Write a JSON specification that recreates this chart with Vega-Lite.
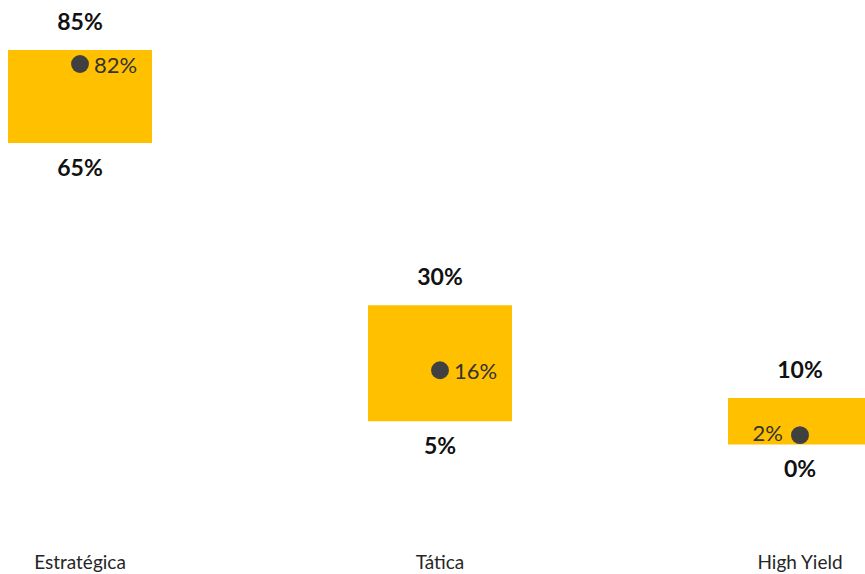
{
  "$schema": "https://vega.github.io/schema/vega-lite/v6.json",
  "width": 865,
  "height": 540,
  "autosize": "none",
  "padding": {"left": 0, "top": 0, "right": 0, "bottom": 34},
  "background": "white",
  "config": {"view": {"stroke": null}, "font": "Lato"},
  "data": {
    "values": [
      {"categoria": "Estratégica", "min": 0.65, "max": 0.85, "atual": 0.82},
      {"categoria": "Tática", "min": 0.05, "max": 0.30, "atual": 0.16},
      {"categoria": "High Yield", "min": 0.0, "max": 0.10, "atual": 0.02}
    ]
  },
  "encoding": {
    "x": {
      "field": "categoria",
      "type": "nominal",
      "sort": ["Estratégica", "Tática", "High Yield"],
      "scale": {"range": [-100, 980], "paddingInner": 0.6, "paddingOuter": 0.3},
      "axis": {
        "title": null,
        "domain": false,
        "ticks": false,
        "labelAngle": 0,
        "labelFont": "Lato",
        "labelFontSize": 19,
        "labelColor": "#262626",
        "labelBaseline": "alphabetic",
        "labelPadding": 28
      }
    }
  },
  "layer": [
    {
      "mark": {"type": "bar", "color": "#FFC000"},
      "encoding": {
        "y": {"field": "min", "type": "quantitative", "scale": {"domain": [-0.206, 0.958], "nice": false, "zero": false}, "axis": null},
        "y2": {"field": "max"}
      }
    },
    {
      "mark": {"type": "circle", "color": "#404040", "opacity": 1, "size": 320},
      "encoding": {
        "y": {"field": "atual", "type": "quantitative"}
      }
    },
    {
      "mark": {"type": "text", "fontWeight": "bold", "fontSize": 23, "dy": -27, "baseline": "middle", "color": "#111111"},
      "encoding": {
        "y": {"field": "max", "type": "quantitative"},
        "text": {"field": "max", "type": "quantitative", "format": ".0%"}
      }
    },
    {
      "mark": {"type": "text", "fontWeight": "bold", "fontSize": 23, "dy": 26, "baseline": "middle", "color": "#111111"},
      "encoding": {
        "y": {"field": "min", "type": "quantitative"},
        "text": {"field": "min", "type": "quantitative", "format": ".0%"}
      }
    },
    {
      "transform": [{"filter": "datum.categoria != 'High Yield'"}],
      "mark": {"type": "text", "fontSize": 22, "dx": 14, "dy": 2, "align": "left", "baseline": "middle", "color": "#333333"},
      "encoding": {
        "y": {"field": "atual", "type": "quantitative"},
        "text": {"field": "atual", "type": "quantitative", "format": ".0%"}
      }
    },
    {
      "transform": [{"filter": "datum.categoria == 'High Yield'"}],
      "mark": {"type": "text", "fontSize": 22, "dx": -17, "dy": -1, "align": "right", "baseline": "middle", "color": "#333333"},
      "encoding": {
        "y": {"field": "atual", "type": "quantitative"},
        "text": {"field": "atual", "type": "quantitative", "format": ".0%"}
      }
    }
  ]
}
